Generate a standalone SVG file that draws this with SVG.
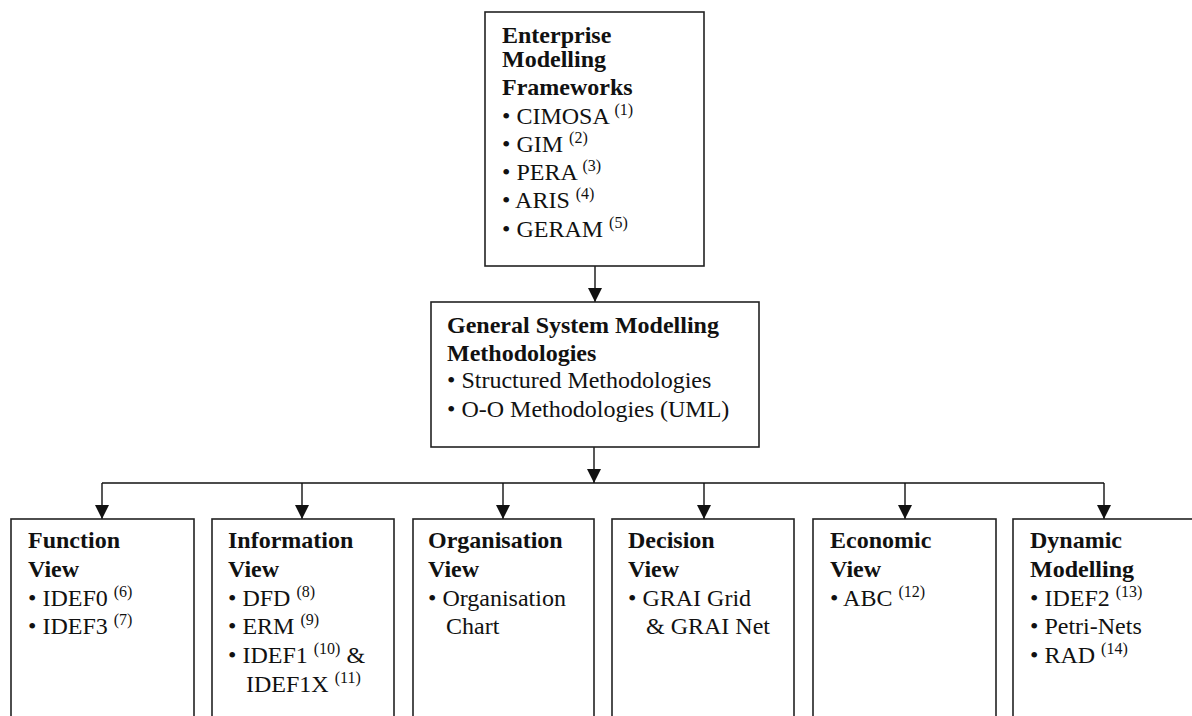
<svg xmlns="http://www.w3.org/2000/svg" width="1192" height="716" viewBox="0 0 1192 716">
<style>
.box{fill:#fff;stroke:#222;stroke-width:1.6}
.t{font-family:"Liberation Serif","Times New Roman",serif;font-size:24px;fill:#111}
.b{font-weight:bold}
.sup{font-size:16px}
.conn{fill:none;stroke:#111;stroke-width:1.4}
</style>
<defs>
<marker id="ah" markerUnits="userSpaceOnUse" markerWidth="14" markerHeight="14" refX="14" refY="7" orient="auto">
<path d="M0,0 L14,7 L0,14 z" fill="#111"/>
</marker>
</defs>
<rect width="1192" height="716" fill="#fff"/>
<g id="connectors">
<line class="conn" x1="595" y1="266" x2="595" y2="302" marker-end="url(#ah)"/>
<line class="conn" x1="594" y1="447" x2="594" y2="483" marker-end="url(#ah)"/>
<line class="conn" x1="102" y1="483" x2="1104" y2="483"/>
<line class="conn" x1="102" y1="483" x2="102" y2="519" marker-end="url(#ah)"/>
<line class="conn" x1="302" y1="483" x2="302" y2="519" marker-end="url(#ah)"/>
<line class="conn" x1="503" y1="483" x2="503" y2="519" marker-end="url(#ah)"/>
<line class="conn" x1="704" y1="483" x2="704" y2="519" marker-end="url(#ah)"/>
<line class="conn" x1="905" y1="483" x2="905" y2="519" marker-end="url(#ah)"/>
<line class="conn" x1="1104" y1="483" x2="1104" y2="519" marker-end="url(#ah)"/>
</g>
<g id="enterprise">
<rect class="box" x="485" y="12" width="219" height="254"/>
<text class="t b" x="502" y="43">Enterprise</text>
<text class="t b" x="502" y="67">Modelling</text>
<text class="t b" x="502" y="95">Frameworks</text>
<text class="t" x="502" y="124">• CIMOSA <tspan class="sup" dy="-9">(1)</tspan></text>
<text class="t" x="502" y="152">• GIM <tspan class="sup" dy="-9">(2)</tspan></text>
<text class="t" x="502" y="180">• PERA <tspan class="sup" dy="-9">(3)</tspan></text>
<text class="t" x="502" y="208">• ARIS <tspan class="sup" dy="-9">(4)</tspan></text>
<text class="t" x="502" y="237">• GERAM <tspan class="sup" dy="-9">(5)</tspan></text>
</g>
<g id="general">
<rect class="box" x="431" y="302" width="328" height="145"/>
<text class="t b" x="447" y="333">General System Modelling</text>
<text class="t b" x="447" y="361">Methodologies</text>
<text class="t" x="447" y="388">• Structured Methodologies</text>
<text class="t" x="447" y="417">• O-O Methodologies (UML)</text>
</g>
<g id="function">
<rect class="box" x="11" y="519" width="183" height="220"/>
<text class="t b" x="28" y="548">Function</text>
<text class="t b" x="28" y="577">View</text>
<text class="t" x="28" y="606">• IDEF0 <tspan class="sup" dy="-9">(6)</tspan></text>
<text class="t" x="28" y="634">• IDEF3 <tspan class="sup" dy="-9">(7)</tspan></text>
</g>
<g id="information">
<rect class="box" x="212" y="519" width="182" height="220"/>
<text class="t b" x="228" y="548">Information</text>
<text class="t b" x="228" y="577">View</text>
<text class="t" x="228" y="606">• DFD <tspan class="sup" dy="-9">(8)</tspan></text>
<text class="t" x="228" y="634">• ERM <tspan class="sup" dy="-9">(9)</tspan></text>
<text class="t" x="228" y="663">• IDEF1 <tspan class="sup" dy="-9">(10)</tspan><tspan dy="9"> &amp;</tspan></text>
<text class="t" x="246" y="692">IDEF1X <tspan class="sup" dy="-9">(11)</tspan></text>
</g>
<g id="organisation">
<rect class="box" x="413" y="519" width="181" height="220"/>
<text class="t b" x="428" y="548">Organisation</text>
<text class="t b" x="428" y="577">View</text>
<text class="t" x="428" y="606">• Organisation</text>
<text class="t" x="446" y="634">Chart</text>
</g>
<g id="decision">
<rect class="box" x="612" y="519" width="182" height="220"/>
<text class="t b" x="628" y="548">Decision</text>
<text class="t b" x="628" y="577">View</text>
<text class="t" x="628" y="606">• GRAI Grid</text>
<text class="t" x="646" y="634">&amp; GRAI Net</text>
</g>
<g id="economic">
<rect class="box" x="813" y="519" width="183" height="220"/>
<text class="t b" x="830" y="548">Economic</text>
<text class="t b" x="830" y="577">View</text>
<text class="t" x="830" y="606">• ABC <tspan class="sup" dy="-9">(12)</tspan></text>
</g>
<g id="dynamic">
<rect class="box" x="1013" y="519" width="200" height="220"/>
<text class="t b" x="1030" y="548">Dynamic</text>
<text class="t b" x="1030" y="577">Modelling</text>
<text class="t" x="1030" y="606">• IDEF2 <tspan class="sup" dy="-9">(13)</tspan></text>
<text class="t" x="1030" y="634">• Petri-Nets</text>
<text class="t" x="1030" y="663">• RAD <tspan class="sup" dy="-9">(14)</tspan></text>
</g>
</svg>
